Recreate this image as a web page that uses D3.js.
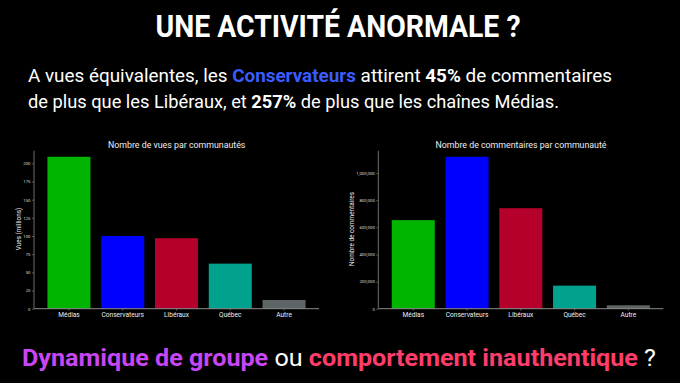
<!DOCTYPE html>
<html><head><meta charset="utf-8">
<script src="https://cdn.jsdelivr.net/npm/d3@7"></script>
<style>
html,body{margin:0;padding:0;background:#000;}
svg{display:block;}
</style></head>
<body>
<svg id="c" width="680" height="383"></svg>
<script>
const categories = ["Médias","Conservateurs","Libéraux","Québec","Autre"];
const vues = [209, 100, 97, 62, 12];            // millions
const commentaires = [653000, 1120000, 741000, 170000, 25000];
const colors = ["#00b400","#0000ff","#b4002a","#00a28e","#5e6567"];
const vuesTicks = [0,25,50,75,100,125,150,175,200];
const commTicks = [0,200000,400000,600000,800000,1000000];

const svg = d3.select("#c");
const F = "Roboto, 'Noto Sans', sans-serif";
svg.append("rect").attr("width",680).attr("height",383).attr("fill","#000");

// Title
svg.append("text").attr("x",338).attr("y",37).attr("text-anchor","middle")
  .attr("font-family",F).attr("font-weight",700).attr("font-size",32).attr("fill","#fff")
  .attr("textLength",365).attr("lengthAdjust","spacingAndGlyphs")
  .text("UNE ACTIVITÉ ANORMALE ?");

// Subtitle
function richLine(y, parts, len){
  const t = svg.append("text").attr("x",28).attr("y",y)
    .attr("font-family",F).attr("font-size",18).attr("fill","#fff")
    .attr("textLength",len).attr("lengthAdjust","spacingAndGlyphs");
  parts.forEach(p=>{
    t.append("tspan").text(p.t).attr("font-weight",p.b?700:400).attr("fill",p.c||"#fff");
  });
}
richLine(81.5,[{t:"A vues équivalentes, les "},{t:"Conservateurs",b:1,c:"#3a5cff"},{t:" attirent "},{t:"45%",b:1},{t:" de commentaires"}],584);
richLine(108,[{t:"de plus que les Libéraux, et "},{t:"257%",b:1},{t:" de plus que les chaînes Médias."}],531);

// Bottom line
(function(){
  const t = svg.append("text").attr("x",22).attr("y",366)
    .attr("font-family",F).attr("font-size",23).attr("fill","#fff")
    .attr("textLength",634).attr("lengthAdjust","spacingAndGlyphs");
  [{t:"Dynamique de groupe",b:1,c:"#c846f5"},{t:" ou "},{t:"comportement inauthentique",b:1,c:"#ff3d6a"},{t:" ?"}]
   .forEach(p=>t.append("tspan").text(p.t).attr("font-weight",p.b?700:400).attr("fill",p.c||"#fff"));
})();

function chart(opts){
  const {x0,x1,yTop,yBase,data,ticks,fmt,title,titleX,ylabel,ylabelX} = opts;
  const g = svg.append("g");
  const x = d3.scaleBand().domain(categories).range([x0,x1]).paddingInner(0.2).paddingOuter(0.25);
  const y = d3.scaleLinear().domain([0, d3.max(data)*1.04]).range([yBase,yTop]);
  // bars
  g.selectAll("rect.bar").data(data).join("rect").attr("class","bar")
    .attr("x",(d,i)=>x(categories[i])).attr("width",x.bandwidth())
    .attr("y",d=>y(d)).attr("height",d=>yBase-y(d))
    .attr("fill",(d,i)=>colors[i]);
  // y axis
  const ya = g.append("g").attr("transform",`translate(${x0},0)`)
    .call(d3.axisLeft(y).tickValues(ticks).tickFormat(fmt).tickSize(2).tickPadding(1.5));
  ya.select(".domain").attr("stroke","#8a8a8a").attr("stroke-width",0.8).attr("d",`M0,${yTop}V${yBase}`);
  ya.selectAll(".tick line").attr("stroke","#8a8a8a").attr("stroke-width",0.6);
  ya.selectAll(".tick text").attr("fill","#ddd").attr("font-family",F).attr("font-size",4.3);
  // x axis
  const xa = g.append("g").attr("transform",`translate(0,${yBase})`)
    .call(d3.axisBottom(x).tickSize(2).tickPadding(2));
  xa.select(".domain").attr("stroke","#8a8a8a").attr("stroke-width",1).attr("d",`M${x0},0H${x1}`);
  xa.selectAll(".tick line").attr("stroke","#8a8a8a").attr("stroke-width",0.6);
  xa.selectAll(".tick text").attr("fill","#eee").attr("font-family",F).attr("font-size",6.6);
  // title
  g.append("text").attr("x",titleX).attr("y",148).attr("text-anchor","middle")
    .attr("font-family",F).attr("font-size",8.8).attr("fill","#eee").text(title);
  // y label
  g.append("text").attr("transform",`translate(${ylabelX},229) rotate(-90)`).attr("text-anchor","middle")
    .attr("font-family",F).attr("font-size",6.4).attr("fill","#eee").text(ylabel);
}

chart({x0:34,x1:319,yTop:150.7,yBase:308.7,data:vues,ticks:vuesTicks,fmt:d3.format("d"),
  title:"Nombre de vues par communautés",titleX:176.7,ylabel:"Vues (millions)",ylabelX:21});
chart({x0:378.3,x1:663.3,yTop:150.7,yBase:308.7,data:commentaires,ticks:commTicks,fmt:d3.format(","),
  title:"Nombre de commentaires par communauté",titleX:521,ylabel:"Nombre de commentaires",ylabelX:354});
</script>
</body></html>
